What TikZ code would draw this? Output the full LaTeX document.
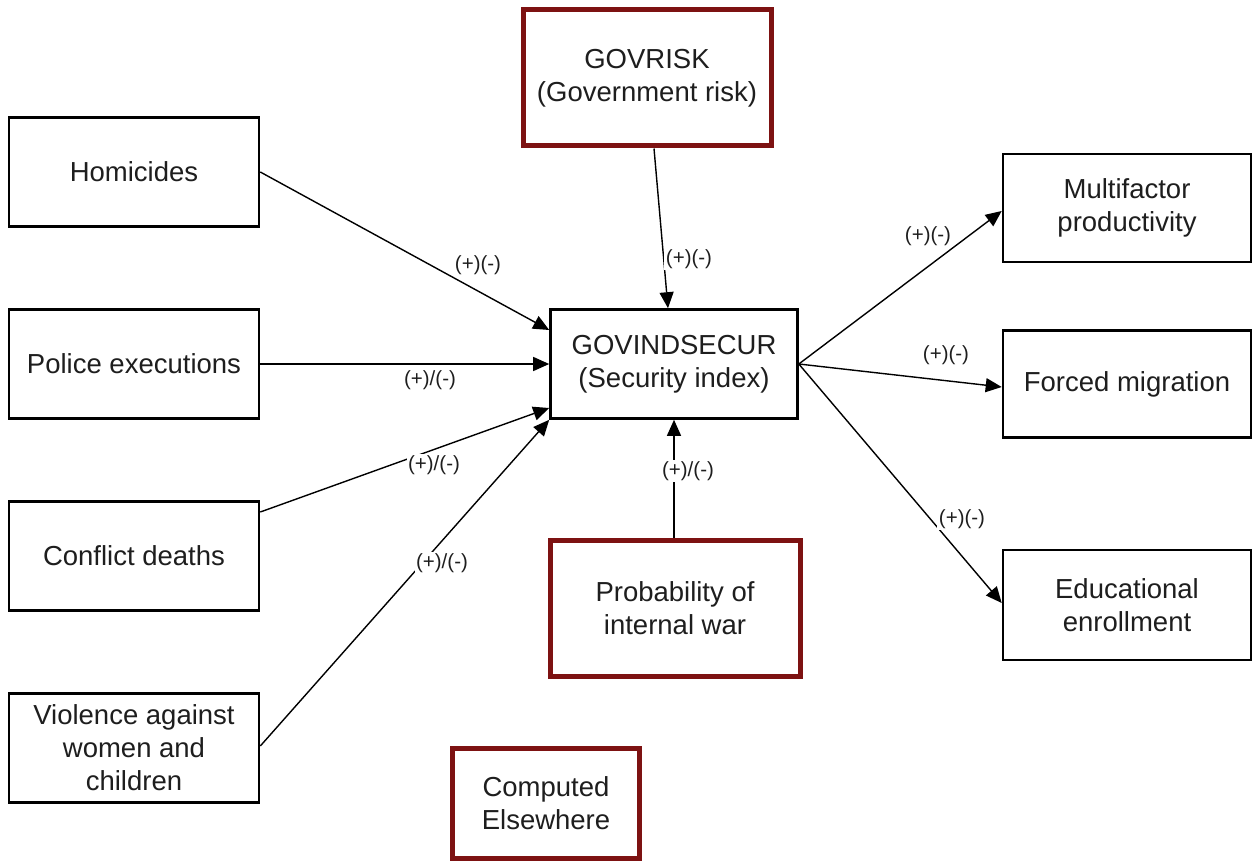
\documentclass[tikz,border=0pt]{standalone}
\usepackage{fontspec}
\setmainfont{Liberation Sans}
\usetikzlibrary{arrows.meta}
\definecolor{boxred}{RGB}{125,18,18}
\definecolor{txt}{RGB}{30,30,30}
\tikzset{
  box/.style={draw=black, line width=2.6pt, fill=white, inner sep=0pt, align=center,
    text=txt, font=\fontsize{27.5}{33}\selectfont},
  redbox/.style={box, draw=boxred, line width=5pt},
  arr/.style={line width=1.4pt, -{Triangle[length=16pt,width=14pt]}},
  lbl/.style={fill=white, inner sep=1.5pt, text=txt, font=\fontsize{20.5}{22}\selectfont}
}
\begin{document}
\begin{tikzpicture}[x=1pt,y=-1pt]
\useasboundingbox (0,0) rectangle (1252,861);
% nodes
\node[box, minimum width=250pt, minimum height=109pt] (hom) at (134,172) {Homicides};
\node[box, minimum width=250pt, minimum height=109pt] (pol) at (134,364) {Police executions};
\node[box, minimum width=250pt, minimum height=109pt] (con) at (134,556) {Conflict deaths};
\node[box, minimum width=250pt, minimum height=109pt] (vio) at (134,748) {Violence against\\women and\\children};
\node[redbox, minimum width=248pt, minimum height=136pt] (risk) at (647,78) {GOVRISK\\(Government risk)};
\node[box, minimum width=247pt, minimum height=109pt] (sec) at (674,364) {GOVINDSECUR\\(Security index)};
\node[redbox, minimum width=250pt, minimum height=136pt] (prob) at (675,608) {Probability of\\internal war};
\node[redbox, minimum width=187pt, minimum height=110pt] (comp) at (546,803) {Computed\\Elsewhere};
\node[box, minimum width=248pt, minimum height=108pt] (mf) at (1127,208) {Multifactor\\productivity};
\node[box, minimum width=248pt, minimum height=107pt] (fm) at (1127,384) {Forced migration};
\node[box, minimum width=248pt, minimum height=110pt] (edu) at (1127,605) {Educational\\enrollment};
% connectors
\draw[arr] (hom.east) -- ([yshift=34pt]sec.west);
\draw[arr] (pol.east) -- (sec.west);
\draw[arr] ([yshift=44pt]con.east) -- ([yshift=-44pt]sec.west);
\draw[arr] ([yshift=2pt]vio.east) -- (sec.south west);
\draw[arr] ([xshift=7pt]risk.south) -- ([xshift=-6pt]sec.north);
\draw[arr] ([xshift=-1pt]prob.north) -- (sec.south);
\draw[arr] (sec.east) -- ([yshift=-3pt]mf.west);
\draw[arr] (sec.east) -- ([yshift=-3pt]fm.west);
\draw[arr] (sec.east) -- ([yshift=2pt]edu.west);
% labels
\node[lbl] (l1) at (478,265) {(+)(-)};
\node[lbl] (l2) at (430,380) {(+)/(-)};
\node[lbl] (l3) at (434,465) {(+)/(-)};
\node[lbl] (l4) at (442,563) {(+)/(-)};
\node[lbl] (l5) at (689,259) {(+)(-)};
\node[lbl] (l6) at (688,471) {(+)/(-)};
\node[lbl] (l7) at (928,236) {(+)(-)};
\node[lbl] (l8) at (946,355) {(+)(-)};
\node[lbl] (l9) at (962,519) {(+)(-)};
\end{tikzpicture}
\end{document}
